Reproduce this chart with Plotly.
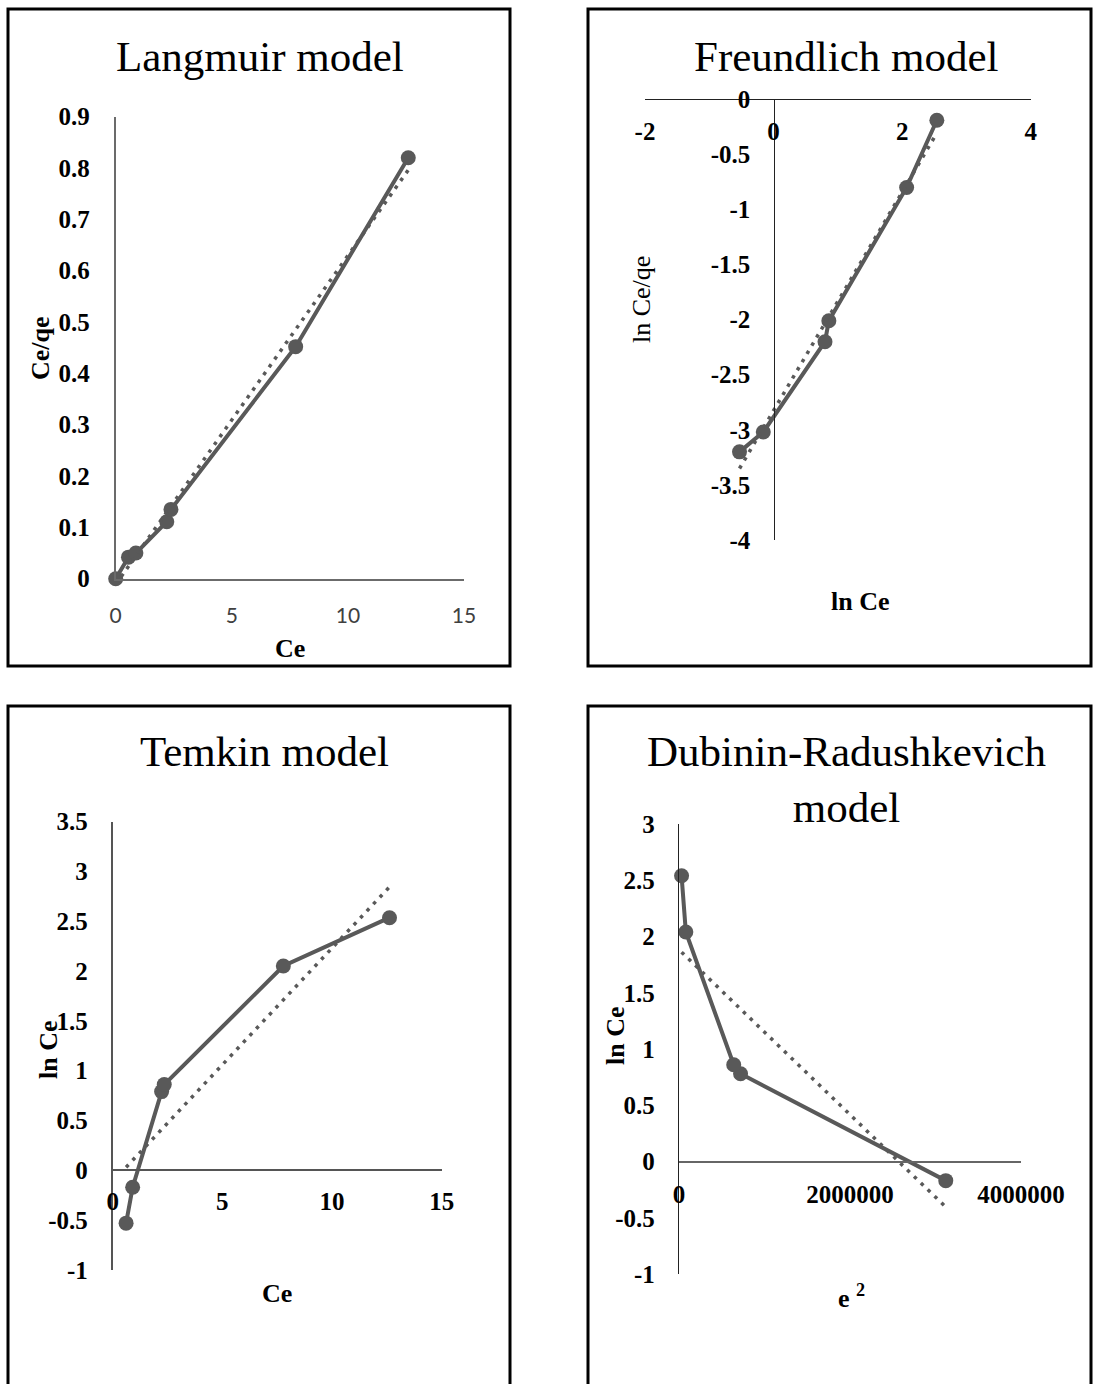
import numpy as np
import plotly.graph_objects as go

W, H = 1094, 1384

# ---------------- data ----------------
# Langmuir model
ce_langmuir = [0, 0.55, 0.87, 2.2, 2.38, 7.75, 12.6]
ce_over_qe = [0, 0.042, 0.050, 0.111, 0.135, 0.452, 0.82]
# Freundlich model
ln_ce_freundlich = [-0.53, -0.16, 0.80, 0.86, 2.07, 2.54]
ln_ce_over_qe = [-3.20, -3.02, -2.20, -2.01, -0.80, -0.19]
# Temkin model
ce_temkin = [0.61, 0.91, 2.23, 2.35, 7.78, 12.62]
ln_ce_temkin = [-0.53, -0.17, 0.79, 0.86, 2.05, 2.535]
# Dubinin-Radushkevich model
e2_dr = [3120000, 720000, 640000, 80000, 30000]
ln_ce_dr = [-0.17, 0.78, 0.86, 2.04, 2.54]

# tick values / labels
lang_xticks = [0, 5, 10, 15]
lang_xlabels = ["0", "5", "10", "15"]
lang_yticks = [0, 0.1, 0.2, 0.3, 0.4, 0.5, 0.6, 0.7, 0.8, 0.9]
lang_ylabels = ["0", "0.1", "0.2", "0.3", "0.4", "0.5", "0.6", "0.7", "0.8", "0.9"]
fr_xticks = [-2, 0, 2, 4]
fr_xlabels = ["-2", "0", "2", "4"]
fr_yticks = [-4, -3.5, -3, -2.5, -2, -1.5, -1, -0.5, 0]
fr_ylabels = ["-4", "-3.5", "-3", "-2.5", "-2", "-1.5", "-1", "-0.5", "0"]
tem_xticks = [0, 5, 10, 15]
tem_xlabels = ["0", "5", "10", "15"]
tem_yticks = [-1, -0.5, 0, 0.5, 1, 1.5, 2, 2.5, 3, 3.5]
tem_ylabels = ["-1", "-0.5", "0", "0.5", "1", "1.5", "2", "2.5", "3", "3.5"]
dr_xticks = [0, 2000000, 4000000]
dr_xlabels = ["0", "2000000", "4000000"]
dr_yticks = [-1, -0.5, 0, 0.5, 1, 1.5, 2, 2.5, 3]
dr_ylabels = ["-1", "-0.5", "0", "0.5", "1", "1.5", "2", "2.5", "3"]

GRAY = "#595959"
SERIF = "Liberation Serif"


def fx(px):
    return px / W


def fy(py):
    return 1 - py / H


def zero_pos(rng, dom):
    return dom[0] + (0 - rng[0]) / (rng[1] - rng[0]) * (dom[1] - dom[0])


def trend(x, y):
    k, b = np.polyfit(x, y, 1)
    xs = np.array([min(x), max(x)])
    return xs, k * xs + b


fig = go.Figure()

series = [
    (ce_langmuir, ce_over_qe, "x", "y"),
    (ln_ce_freundlich, ln_ce_over_qe, "x2", "y2"),
    (ce_temkin, ln_ce_temkin, "x3", "y3"),
    (e2_dr, ln_ce_dr, "x4", "y4"),
]
for xs, ys, xa, ya in series:
    fig.add_trace(go.Scatter(
        x=xs, y=ys, xaxis=xa, yaxis=ya, mode="lines+markers",
        line=dict(color=GRAY, width=4),
        marker=dict(color=GRAY, size=15, line=dict(width=0)),
        cliponaxis=False, showlegend=False, hoverinfo="skip"))
    tx, ty = trend(xs, ys)
    fig.add_trace(go.Scatter(
        x=tx, y=ty, xaxis=xa, yaxis=ya, mode="lines",
        line=dict(color=GRAY, width=3.5, dash="3.5px,6px"),
        showlegend=False, hoverinfo="skip"))

# domains (pixel -> paper)
d1x, d1y = [fx(115.7), fx(464)], [fy(578.7), fy(116.7)]
d2x, d2y = [fx(645), fx(1030.7)], [fy(540), fy(99.3)]
d3x, d3y = [fx(112.7), fx(441.7)], [fy(1270), fy(821.5)]
d4x, d4y = [fx(679), fx(1021)], [fy(1274), fy(824)]

r1x, r1y = [0, 15], [0, 0.9]
r2x, r2y = [-2, 4], [-4, 0]
r3x, r3y = [0, 15], [-1, 3.5]
r4x, r4y = [0, 4000000], [-1, 3]

bold_tick = dict(family=SERIF, size=25, color="black", weight="bold")
base = dict(showgrid=False, zeroline=False, showline=True, ticks="",
            fixedrange=True, automargin=False)

fig.update_layout(
    width=W, height=H,
    margin=dict(l=0, r=0, t=0, b=0, pad=0, autoexpand=False),
    paper_bgcolor="white", plot_bgcolor="rgba(0,0,0,0)",
    xaxis=dict(base, domain=d1x, range=r1x, anchor="y",
               tickvals=lang_xticks, ticktext=lang_xlabels,
               tickfont=dict(family="Lato", size=21, color="#404040"),
               linecolor="#6b6b6b", linewidth=2, ticklabelstandoff=17),
    yaxis=dict(base, domain=d1y, range=r1y, anchor="x",
               tickvals=lang_yticks, ticktext=lang_ylabels, tickfont=bold_tick,
               linecolor="#6b6b6b", linewidth=2, ticklabelstandoff=19),
    xaxis2=dict(base, domain=d2x, range=r2x, anchor="free",
                position=zero_pos(r2y, d2y), side="bottom",
                tickvals=fr_xticks, ticktext=fr_xlabels, tickfont=bold_tick,
                linecolor="#222222", linewidth=1.4, ticklabelstandoff=9),
    yaxis2=dict(base, domain=d2y, range=r2y, anchor="free",
                position=zero_pos(r2x, d2x),
                tickvals=fr_yticks, ticktext=fr_ylabels, tickfont=bold_tick,
                linecolor="#222222", linewidth=1.4, ticklabelstandoff=18),
    xaxis3=dict(base, domain=d3x, range=r3x, anchor="free",
                position=zero_pos(r3y, d3y), side="bottom",
                tickvals=tem_xticks, ticktext=tem_xlabels, tickfont=bold_tick,
                linecolor="#555555", linewidth=1.8, ticklabelstandoff=9),
    yaxis3=dict(base, domain=d3y, range=r3y, anchor="x3",
                tickvals=tem_yticks, ticktext=tem_ylabels, tickfont=bold_tick,
                linecolor="#555555", linewidth=1.8, ticklabelstandoff=18),
    xaxis4=dict(base, domain=d4x, range=r4x, anchor="free",
                position=zero_pos(r4y, d4y), side="bottom",
                tickvals=dr_xticks, ticktext=dr_xlabels, tickfont=bold_tick,
                linecolor="#666666", linewidth=2, ticklabelstandoff=10),
    yaxis4=dict(base, domain=d4y, range=r4y, anchor="x4",
                tickvals=dr_yticks, ticktext=dr_ylabels, tickfont=bold_tick,
                linecolor="#222222", linewidth=1.4, ticklabelstandoff=18),
)

# panel borders
for x0, y0, x1, y1 in [(8, 9, 510, 666), (588, 9, 1091, 666),
                       (8, 706, 510, 1400), (588, 706, 1091, 1400)]:
    fig.add_shape(type="rect", xref="paper", yref="paper",
                  x0=fx(x0), x1=fx(x1), y0=fy(y1), y1=fy(y0),
                  line=dict(color="black", width=3), fillcolor="rgba(0,0,0,0)")


def note(text, px, py, size, bold=False, angle=0):
    fig.add_annotation(
        text=text, xref="paper", yref="paper", x=fx(px), y=fy(py),
        xanchor="center", yanchor="middle", showarrow=False, textangle=angle,
        font=dict(family=SERIF, size=size, color="black",
                  weight="bold" if bold else "normal"))


# chart titles
note("Langmuir model", 260, 56, 43)
note("Freundlich model", 846, 56, 43)
note("Temkin model", 264, 751, 43)
note("Dubinin-Radushkevich<br>model", 846, 779, 43)

# axis titles
note("Ce/qe", 41, 348, 26, bold=True, angle=-90)
note("Ce", 290, 648, 26, bold=True)
note("ln Ce/qe", 642, 300, 26, angle=-90)
note("ln Ce", 860, 601, 26, bold=True)
note("ln Ce", 48, 1050, 26, bold=True, angle=-90)
note("Ce", 277, 1293, 26, bold=True)
note("ln Ce", 615, 1036, 26, bold=True, angle=-90)
note("e <sup>2</sup>", 851, 1296, 26, bold=True)

fig.write_html("out.html")
